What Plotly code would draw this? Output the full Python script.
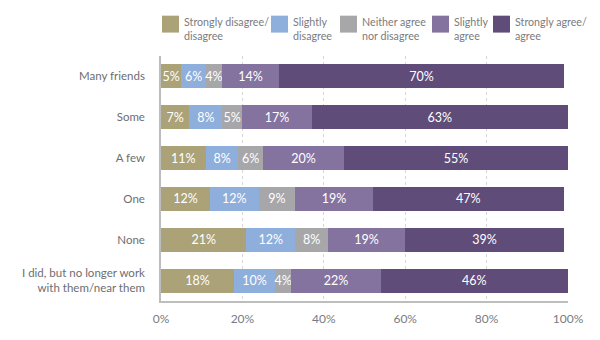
import plotly.graph_objects as go

categories = ["Many friends", "Some", "A few", "One", "None",
              "I did, but no longer work<br>with them/near them"]
series_names = ["Strongly disagree/<br>disagree", "Slightly<br>disagree",
                "Neither agree<br>nor disagree", "Slightly<br>agree",
                "Strongly agree/<br>agree"]
strongly_disagree = [5, 7, 11, 12, 21, 18]
slightly_disagree = [6, 8, 8, 12, 12, 10]
neither = [4, 5, 6, 9, 8, 4]
slightly_agree = [14, 17, 20, 19, 19, 22]
strongly_agree = [70, 63, 55, 47, 39, 46]
series_values = [strongly_disagree, slightly_disagree, neither, slightly_agree, strongly_agree]
colors = ["#aba278", "#8eaedb", "#a7a7a9", "#85739f", "#604c78"]
tick_vals = [0, 20, 40, 60, 80, 100]
tick_text = ["0%", "20%", "40%", "60%", "80%", "100%"]

FONT = "Lato"
fig = go.Figure()
for name, vals, col in zip(series_names, series_values, colors):
    fig.add_trace(go.Bar(
        y=categories, x=vals, name=name, orientation="h",
        marker=dict(color=col, line=dict(width=0)),
        text=[f"{v}%" for v in vals], textposition="inside",
        insidetextanchor="middle", textangle=0, constraintext="none",
        textfont=dict(color="white", size=12.5, family=FONT),
        hoverinfo="skip", showlegend=False, cliponaxis=False,
    ))

fig.update_layout(
    barmode="stack", bargap=0.415,
    width=600, height=340,
    margin=dict(l=161, r=32, t=55.5, b=38.5),
    plot_bgcolor="white", paper_bgcolor="white",
    font=dict(family=FONT, color="#6d6e71", size=12),
    xaxis=dict(range=[0, 100], tickvals=tick_vals, ticktext=tick_text,
               showgrid=True, gridcolor="#d6d6d6", griddash="dot", gridwidth=1,
               zeroline=False, showline=True, linecolor="#bdbdbd", linewidth=1.5,
               ticks="", ticklabelstandoff=6,
               tickfont=dict(size=12, color="#7a7b7e"), fixedrange=True),
    yaxis=dict(categoryorder="array", categoryarray=categories, autorange="reversed",
               showgrid=False, showline=True, linecolor="#bdbdbd", linewidth=1.5,
               ticks="", ticklabelstandoff=12, tickfont=dict(size=11.5, color="#6d6e71")),
)

# Custom legend: squares and two-line labels (paper coordinates)
sq_x = [162, 271, 340, 432, 493]
for name, col, x0 in zip(series_names, colors, sq_x):
    fig.add_shape(type="rect", xref="paper", yref="paper",
                  x0=(x0 - 161) / 407, x1=(x0 + 17 - 161) / 407,
                  y0=(340 - 38.5 - 32) / 246, y1=(340 - 38.5 - 15) / 246,
                  fillcolor=col, line=dict(width=0))
    fig.add_annotation(xref="paper", yref="paper",
                       x=(x0 + 20 - 161) / 407, y=(340 - 38.5 - 12.5) / 246,
                       xanchor="left", yanchor="top", align="left",
                       text=name, showarrow=False,
                       font=dict(size=10.7, color="#7a7b7e", family=FONT))

fig.write_html("out.html")
